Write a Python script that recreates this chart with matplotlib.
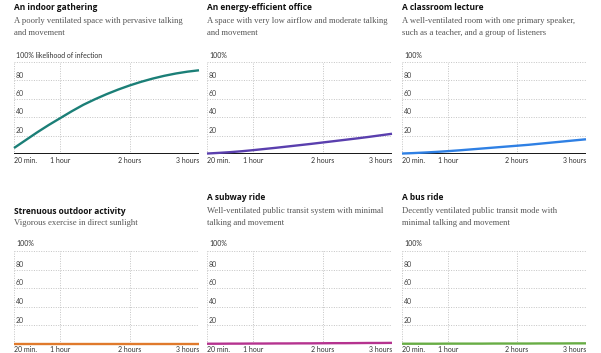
import matplotlib.pyplot as plt

W, H = 601, 353

titles = ["An indoor gathering", "An energy-efficient office", "A classroom lecture",
          "Strenuous outdoor activity", "A subway ride", "A bus ride"]
subtitles = [
    "A poorly ventilated space with pervasive talking\nand movement",
    "A space with very low airflow and moderate talking\nand movement",
    "A well-ventilated room with one primary speaker,\nsuch as a teacher, and a group of listeners",
    "Vigorous exercise in direct sunlight",
    "Well-ventilated public transit system with minimal\ntalking and movement",
    "Decently ventilated public transit mode with\nminimal talking and movement",
]
colors = ["#1b7f77", "#5a3fae", "#2f80e4", "#e07a2c", "#b5338f", "#68ad45"]

minutes = [20, 30, 40, 50, 60, 70, 80, 90, 100, 110, 120, 130, 140, 150, 160, 170, 180]
risk_gathering = [6.5, 15, 23.5, 31.5, 39, 46.5, 53.5, 59.5, 65, 70, 74.5, 78.5, 82, 85, 87.5, 89.5, 91]
risk_office = [0.5, 1.2, 2, 3, 4.2, 5.5, 6.8, 8.2, 9.6, 11, 12.5, 14, 15.5, 17, 18.6, 20.3, 22]
risk_classroom = [0.5, 1, 1.6, 2.3, 3.1, 4, 5, 6, 7, 8, 9, 10, 11.2, 12.4, 13.6, 14.8, 16]
risk_outdoor = [0.2] * 17
risk_subway = [0.3, 0.3, 0.4, 0.4, 0.5, 0.5, 0.6, 0.6, 0.7, 0.7, 0.8, 0.9, 0.9, 1.0, 1.1, 1.1, 1.2]
risk_bus = [0.3, 0.3, 0.3, 0.3, 0.4, 0.4, 0.4, 0.4, 0.5, 0.5, 0.5, 0.5, 0.6, 0.6, 0.6, 0.7, 0.7]
series = [risk_gathering, risk_office, risk_classroom, risk_outdoor, risk_subway, risk_bus]

xticks = [20, 60, 120, 180]
xticklabels = ["20 min.", "1 hour", "2 hours", "3 hours"]
yticks = [20, 40, 60, 80]

# pixel layout (left, right) per column, (top, bottom) per row
cols = [(14, 199), (207, 392), (402, 586)]
rows = [(62, 154), (251, 344)]
# text y centres: title, sub line 1, sub line 2
text_y = [
    [(8, 21, 33), (8, 21, 33), (8, 21, 33)],
    [(211, 223, None), (197, 211, 223), (197, 211, 223)],
]
label_gap = [7, 5.5]  # px from baseline to tick label centre

fig = plt.figure(figsize=(W / 100, H / 100), dpi=100)
sans = ["Lato", "DejaVu Sans"]
title_font = ["Open Sans", "DejaVu Sans"]
serif = ["Liberation Serif", "DejaVu Serif"]

for i in range(6):
    r, c = divmod(i, 3)
    x0, x1 = cols[c]
    y0, y1 = rows[r]
    ax = fig.add_axes([x0 / W, 1 - y1 / H, (x1 - x0) / W, (y1 - y0) / H])
    ax.plot(minutes, series[i], color=colors[i], lw=1.7, solid_capstyle="butt",
            solid_joinstyle="round", zorder=4, clip_on=False)
    ax.axhline(0, color="black", lw=2, zorder=3)
    ax.set_xlim(20, 180)
    ax.set_ylim(0, 100)
    for v in yticks + [100]:
        ax.axhline(v, color="#c4c4c4", lw=0.7, ls=(0, (1, 1.5)), zorder=1)
    for v in xticks:
        ax.axvline(v, color="#c4c4c4", lw=0.7, ls=(0, (1, 1.5)), zorder=1)
    for v in yticks:
        ax.text(21.5, v + 2, str(v), fontsize=5, family=sans, color="#444444",
                va="bottom", ha="left")
    gap = label_gap[r] / (y1 - y0) * 100
    for v, lab in zip(xticks, xticklabels):
        ha = "left" if v == 20 else ("right" if v == 180 else "center")
        ax.text(v, -gap, lab, fontsize=5, family=sans, color="#333333", ha=ha, va="center")
    for s in ax.spines.values():
        s.set_visible(False)
    ax.set_xticks([])
    ax.set_yticks([])

    ty, s1, s2 = text_y[r][c]
    fig.text(x0 / W, 1 - ty / H, titles[i], fontsize=6, weight="bold", family=title_font,
             color="#111111", va="center")
    lines = subtitles[i].split("\n")
    for ln, yy in zip(lines, [s1, s2] if s2 else [s1]):
        fig.text(x0 / W, 1 - yy / H, ln, fontsize=6.2, family=serif,
                 color="#555555", va="center")
    lab = "100% likelihood of infection" if i == 0 else "100%"
    fig.text((x0 + 2) / W, 1 - (y0 - 7) / H, lab, fontsize=5, family=sans,
             color="#333333", va="center")

fig.savefig("out.png", dpi=100)
